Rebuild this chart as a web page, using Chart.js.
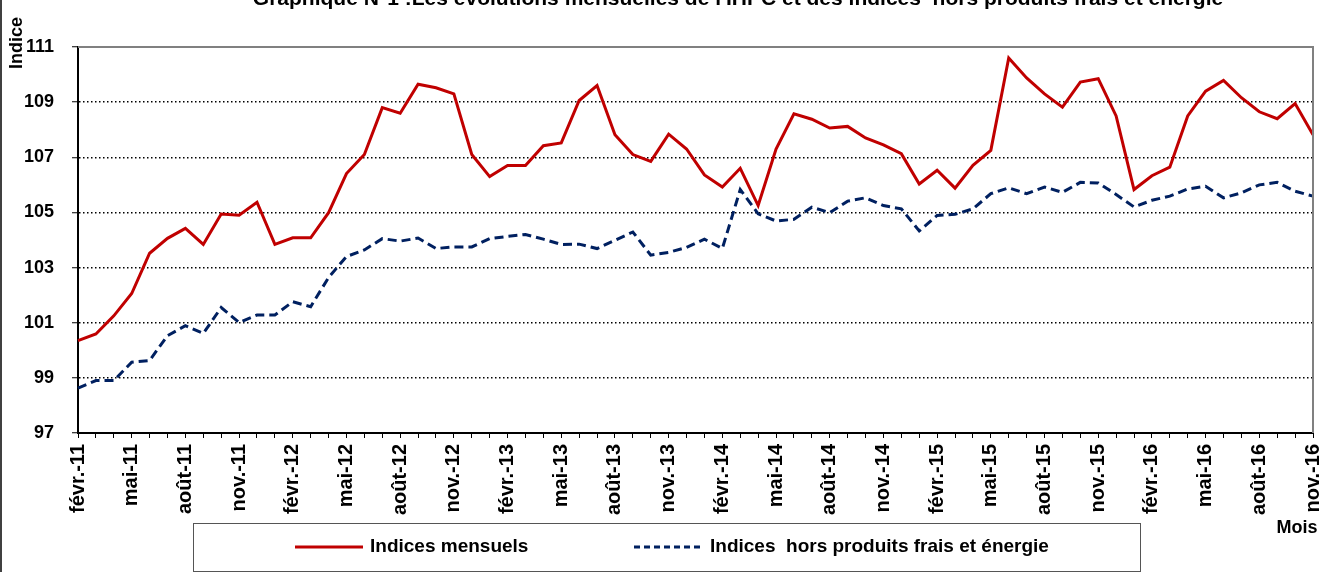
<!DOCTYPE html>
<html>
<head>
<meta charset="utf-8">
<script src="https://cdn.jsdelivr.net/npm/chart.js@4.4.0/dist/chart.umd.min.js"></script>
<style>
  html, body { margin: 0; padding: 0; background: #fff; }
  #wrap { position: relative; width: 1325px; height: 572px; }
</style>
</head>
<body>
<div id="wrap"><canvas id="ihpcChart" width="1325" height="572"></canvas></div>
<script>
// Mois (févr.-11 -> nov.-16)
const monthNames = ['janv.', 'févr.', 'mars', 'avr.', 'mai', 'juin', 'juil.', 'août', 'sept.', 'oct.', 'nov.', 'déc.'];
const months = [];
for (let y = 11; y <= 16; y++) {
    for (let m = 0; m < 12; m++) {
        if (y === 11 && m < 1) continue;
        if (y === 16 && m > 10) continue;
        months.push(monthNames[m] + '-' + y);
    }
}

// Indices mensuels
const indicesMensuels = [
    100.35, 100.59, 101.25, 102.06, 103.52, 104.06, 104.42, 103.84, 104.94, 104.90, 105.37,
    103.84, 104.08, 104.08, 104.99, 106.41, 107.10, 108.80, 108.60, 109.65, 109.52, 109.30,
    107.10, 106.30, 106.70, 106.70, 107.42, 107.52, 109.06, 109.60, 107.82, 107.10, 106.85,
    107.84, 107.30, 106.36, 105.92, 106.60, 105.25, 107.30, 108.58, 108.38, 108.06, 108.12,
    107.70, 107.45, 107.13, 106.03, 106.53, 105.88, 106.71, 107.25, 110.60, 109.88, 109.30,
    108.82, 109.73, 109.85, 108.50, 105.83, 106.33, 106.64, 108.50, 109.40, 109.79, 109.16,
    108.65, 108.40, 108.95, 107.82
];

// Indices hors produits frais et énergie
const indicesHorsFrais = [
    98.63, 98.90, 98.90, 99.57, 99.63, 100.53, 100.89, 100.61, 101.55, 101.01, 101.28,
    101.28, 101.76, 101.58, 102.64, 103.40, 103.64, 104.05, 103.96, 104.07, 103.69, 103.75,
    103.75, 104.05, 104.13, 104.20, 104.03, 103.84, 103.85, 103.69, 103.99, 104.29, 103.45,
    103.55, 103.73, 104.03, 103.69, 105.83, 104.95, 104.69, 104.75, 105.19, 104.99, 105.41,
    105.53, 105.25, 105.13, 104.33, 104.89, 104.93, 105.13, 105.68, 105.89, 105.68, 105.92,
    105.73, 106.09, 106.07, 105.65, 105.20, 105.44, 105.59, 105.85, 105.95, 105.53, 105.71,
    106.00, 106.09, 105.77, 105.59
];

const yTicks = [97, 99, 101, 103, 105, 107, 109, 111];

const chartTitle = "Graphique N°1 :Les évolutions mensuelles de l'IHPC et des indices  hors produits frais et énergie";
const legendLabels = ['Indices mensuels', 'Indices  hors produits frais et énergie'];

const RED = '#C00000';
const NAVY = '#002060';
const FONT = "'Liberation Sans', Arial, sans-serif";
const NARROW = "'Liberation Sans Narrow', 'Arial Narrow', " + FONT;

// Cadre, titre, légende et titres d'axes
const decorPlugin = {
    id: 'decor',
    afterDraw(chart) {
        const ctx = chart.ctx;
        const a = chart.chartArea;
        ctx.save();

        // bordure haut / droite de la zone de tracé
        ctx.strokeStyle = '#808080';
        ctx.lineWidth = 2;
        ctx.beginPath();
        ctx.moveTo(a.left, a.top);
        ctx.lineTo(a.right, a.top);
        ctx.lineTo(a.right, a.bottom);
        ctx.stroke();

        // bord gauche du cadre
        ctx.strokeStyle = '#000';
        ctx.lineWidth = 1.5;
        ctx.beginPath();
        ctx.moveTo(1, 0);
        ctx.lineTo(1, chart.height);
        ctx.stroke();

        // titre (coupé en haut comme l'original)
        ctx.fillStyle = '#000';
        ctx.font = 'bold 21px ' + FONT;
        ctx.textAlign = 'center';
        ctx.textBaseline = 'alphabetic';
        ctx.fillText(chartTitle, 738, 5);

        // titre axe Y
        ctx.save();
        ctx.translate(17, 43);
        ctx.rotate(-Math.PI / 2);
        ctx.font = 'bold 18px ' + FONT;
        ctx.textAlign = 'center';
        ctx.textBaseline = 'middle';
        ctx.fillText('Indice', 0, 0);
        ctx.restore();

        // titre axe X
        ctx.font = 'bold 18px ' + NARROW;
        ctx.textAlign = 'center';
        ctx.textBaseline = 'middle';
        ctx.fillText('Mois', 1297, 528);

        // légende
        ctx.fillStyle = '#fff';
        ctx.fillRect(193, 523, 947, 48);
        ctx.strokeStyle = '#555';
        ctx.lineWidth = 1;
        ctx.strokeRect(193.5, 523.5, 947, 48);

        ctx.lineWidth = 3;
        ctx.strokeStyle = RED;
        ctx.beginPath();
        ctx.moveTo(295, 547);
        ctx.lineTo(363, 547);
        ctx.stroke();

        ctx.strokeStyle = NAVY;
        ctx.setLineDash([6, 4]);
        ctx.beginPath();
        ctx.moveTo(634, 547);
        ctx.lineTo(703, 547);
        ctx.stroke();
        ctx.setLineDash([]);

        ctx.fillStyle = '#000';
        ctx.font = 'bold 19px ' + NARROW;
        ctx.textAlign = 'left';
        ctx.textBaseline = 'middle';
        ctx.fillText(legendLabels[0], 370, 547);
        ctx.fillText(legendLabels[1], 710, 547);

        ctx.restore();
    }
};

const ctx = document.getElementById('ihpcChart');

new Chart(ctx, {
    type: 'line',
    data: {
        labels: months,
        datasets: [
            {
                label: legendLabels[0],
                data: indicesMensuels,
                borderColor: RED,
                borderWidth: 3,
                pointRadius: 0,
                tension: 0,
                fill: false
            },
            {
                label: legendLabels[1],
                data: indicesHorsFrais,
                borderColor: NAVY,
                borderWidth: 3,
                borderDash: [9, 5],
                pointRadius: 0,
                tension: 0,
                fill: false
            }
        ]
    },
    options: {
        responsive: false,
        animation: false,
        layout: {
            padding: { top: 47, right: 12, left: 0, bottom: 0 }
        },
        plugins: {
            legend: { display: false },
            title: { display: false },
            tooltip: { enabled: false }
        },
        scales: {
            x: {
                type: 'category',
                offset: false,
                afterFit: function(scale) {
                    scale.height = 139;
                    scale.paddingLeft = 0;
                    scale.paddingRight = 0;
                },
                grid: {
                    drawOnChartArea: false,
                    drawTicks: true,
                    tickLength: 5,
                    tickColor: '#000',
                    tickWidth: 1
                },
                border: { display: true, color: '#000', width: 2 },
                ticks: {
                    autoSkip: false,
                    minRotation: 90,
                    maxRotation: 90,
                    padding: 6,
                    color: '#000',
                    font: { family: FONT, size: 20, weight: 'bold' },
                    callback: function(value, index) {
                        return index % 3 === 0 ? months[index] : '';
                    }
                }
            },
            y: {
                min: yTicks[0],
                max: yTicks[yTicks.length - 1],
                afterFit: function(scale) { scale.width = 78; },
                afterBuildTicks: function(scale) {
                    scale.ticks = yTicks.map(v => ({ value: v }));
                },
                grid: {
                    color: function(c) {
                        return c.tick && c.tick.value === 111 ? 'rgba(0,0,0,0)' : '#000';
                    },
                    lineWidth: 1.5,
                    drawTicks: true,
                    tickLength: 6,
                    tickColor: '#000',
                    tickWidth: 1
                },
                border: { display: true, color: '#000', width: 2, dash: [1.5, 2.5] },
                ticks: {
                    padding: 18,
                    color: '#000',
                    font: { family: FONT, size: 18, weight: 'bold' }
                }
            }
        }
    },
    plugins: [decorPlugin]
});
</script>
</body>
</html>
